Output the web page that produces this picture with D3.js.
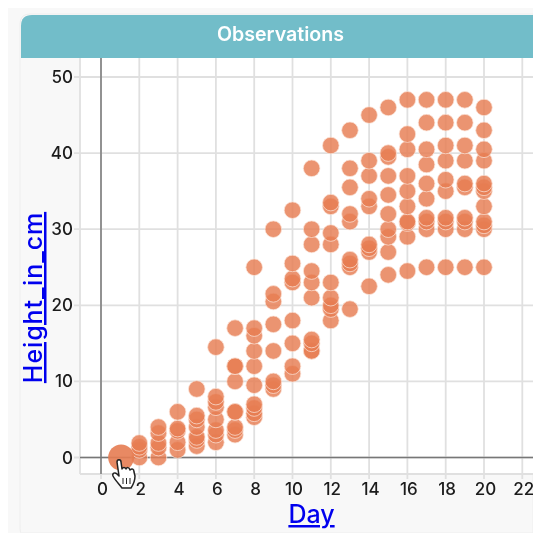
<!DOCTYPE html>
<html><head><meta charset="utf-8">
<script src="https://cdn.jsdelivr.net/npm/d3@7"></script>
<style>html,body{margin:0;padding:0;background:#fff;overflow:hidden}svg{display:block;filter:blur(.4px)}</style>
</head><body><svg id="c" width="533" height="533"></svg>
<script>
const title = "Observations", xTitle = "Day", yTitle = "Height_in_cm";
const xTicks = [0,2,4,6,8,10,12,14,16,18,20,22];
const yTicks = [0,10,20,30,40,50];
const highlightDays = [1];
const highlightHeights = [0];
const days = [2,3,4,5,6,7,8,9,10,11,12,13,14,15,16,17,18,19,20];
const heights = [
 [0,1,1.4,1.9],
 [0,1.3,1.9,3.2,4],
 [1,2,3.5,3.8,6],
 [1.5,2.3,2.7,4,5,5.5,9],
 [2,3,3.6,5,6.6,7.3,8,14.5],
 [3,3.6,4,6,6,10,12,12,17],
 [5.3,5.8,6.5,7,9.5,12,14,16,17,25],
 [9,9.5,10,14,17.5,20.5,21.5,30],
 [11,12,15,18,23,23.5,25.5,32.5],
 [14,14,15,15.5,21,23,24.5,28,30,38],
 [18,19.5,20,21,23,28,29.5,33,33.5,41],
 [19.5,25,25.5,26,31,32,35.5,38,43],
 [22.5,27,27.5,28,33,34,37,39,45],
 [24,27,29,30,32,34.5,37,39.5,40,46],
 [24.5,29,30.8,31,33,35,37,40.5,42.5,47],
 [25,30,31,31.5,34,36,38.5,40.5,44,47],
 [25,30,31,31.5,35,36.5,39,41,44,47],
 [25,30,31,31.5,35.5,36,39,41,44,47],
 [25,30,30.5,31,33,35,35.5,36,39,40.5,43,46]
];
const points = days.flatMap((d,i)=>heights[i].map(h=>({d,h})));
const hi = highlightDays.map((d,i)=>({d,h:highlightHeights[i]}));

const svg = d3.select("#c");
const font = "Inter, 'Open Sans', sans-serif";
const x = d3.scaleLinear().domain([0,20]).range([101,484]);
const y = d3.scaleLinear().domain([0,50]).range([457.5,77]);
const top_ = 58, bottom = 474;

svg.append("rect").attr("x",8).attr("y",8).attr("width",525).attr("height",525).attr("fill","#f8f8f8");
svg.append("path").attr("d","M21 533 Q20 533 20 525 L20 24 Q20 14 30 14 L533 14 L533 533 Z")
  .attr("fill","#f8f8f8").attr("stroke","#eeeeee");
svg.append("path").attr("d","M21 58 L21 26 Q21 15 32 15 L533 15 L533 58 Z").attr("fill","#72bdc9");
svg.append("text").attr("x",280.5).attr("y",41).attr("text-anchor","middle")
  .attr("font-family",font).attr("font-size",19.6).attr("font-weight",600).attr("fill","#fff").text(title);

svg.append("rect").attr("x",80).attr("y",top_).attr("width",453).attr("height",bottom-top_).attr("fill","#fff");

const grid = svg.append("g").attr("stroke","#e0e0e0").attr("stroke-width",1.8);
grid.selectAll(".gx").data(xTicks).join("line").attr("x1",d=>x(d)).attr("x2",d=>x(d)).attr("y1",top_).attr("y2",bottom);
grid.selectAll(".gy").data(yTicks).join("line").attr("x1",74).attr("x2",533).attr("y1",d=>y(d)).attr("y2",d=>y(d));
grid.append("line").attr("x1",80).attr("x2",80).attr("y1",top_).attr("y2",bottom);
grid.append("line").attr("x1",80).attr("x2",533).attr("y1",bottom).attr("y2",bottom);
xTicks.forEach(t=>grid.append("line").attr("x1",x(t)).attr("x2",x(t)).attr("y1",bottom).attr("y2",bottom+5));

svg.append("line").attr("x1",x(0)).attr("x2",x(0)).attr("y1",top_).attr("y2",bottom).attr("stroke","#777").attr("stroke-width",1.5);
svg.append("line").attr("x1",80).attr("x2",533).attr("y1",y(0)).attr("y2",y(0)).attr("stroke","#777").attr("stroke-width",1.5);

svg.append("g").selectAll("text").data(xTicks).join("text")
  .attr("x",d=>x(d)+1.5).attr("y",495).attr("text-anchor","middle")
  .attr("font-family",font).attr("font-size",17).attr("font-weight",500).attr("fill","#1c1c1c").text(d=>d);
svg.append("g").selectAll("text").data(yTicks).join("text")
  .attr("x",73).attr("y",d=>y(d)+6).attr("text-anchor","end")
  .attr("font-family",font).attr("font-size",17).attr("font-weight",500).attr("fill","#1c1c1c").text(d=>d);

svg.append("g").selectAll("circle").data(points).join("circle")
  .attr("cx",d=>x(d.d)).attr("cy",d=>y(d.h)).attr("r",8.3)
  .attr("fill","#e67c52").attr("fill-opacity",.82).attr("stroke","#fbe4da").attr("stroke-opacity",.8).attr("stroke-width",.9);
svg.append("g").selectAll("circle").data(hi).join("circle")
  .attr("cx",d=>x(d.d)+1).attr("cy",d=>y(d.h)).attr("r",13)
  .attr("fill","#e67c52").attr("fill-opacity",.9);

// pointer cursor
const cur = svg.append("g").attr("transform","translate(114,459)");
cur.append("path").attr("d","M3 3 C3 0 7 0 7 3 L8 10 C9 8 11 8 12 10 C13 8 15 8 16 11 C18 9 20 10 20 13 L21 17 C21 23 19 26 17 29 L8 29 C5 25 1 21 -1 17 C-2 14 1 13 3 15 L5 17 Z")
  .attr("fill","#fff").attr("stroke","#222").attr("stroke-width",1.5).attr("stroke-linejoin","round");
[9,12.5,16].forEach(v=>cur.append("line").attr("x1",v).attr("x2",v).attr("y1",19).attr("y2",25).attr("stroke","#222").attr("stroke-width",1));

const lab = (sel)=>sel.attr("font-family",font).attr("font-size",25).attr("font-weight",500).attr("fill","#0000ee").attr("text-decoration","underline");
svg.append("text").attr("x",311.5).attr("y",523).attr("text-anchor","middle").call(lab).text(xTitle);
svg.append("text").attr("transform","translate(42,297.5) rotate(-90)").attr("text-anchor","middle").attr("letter-spacing",.9).call(lab).text(yTitle);
</script></body></html>
